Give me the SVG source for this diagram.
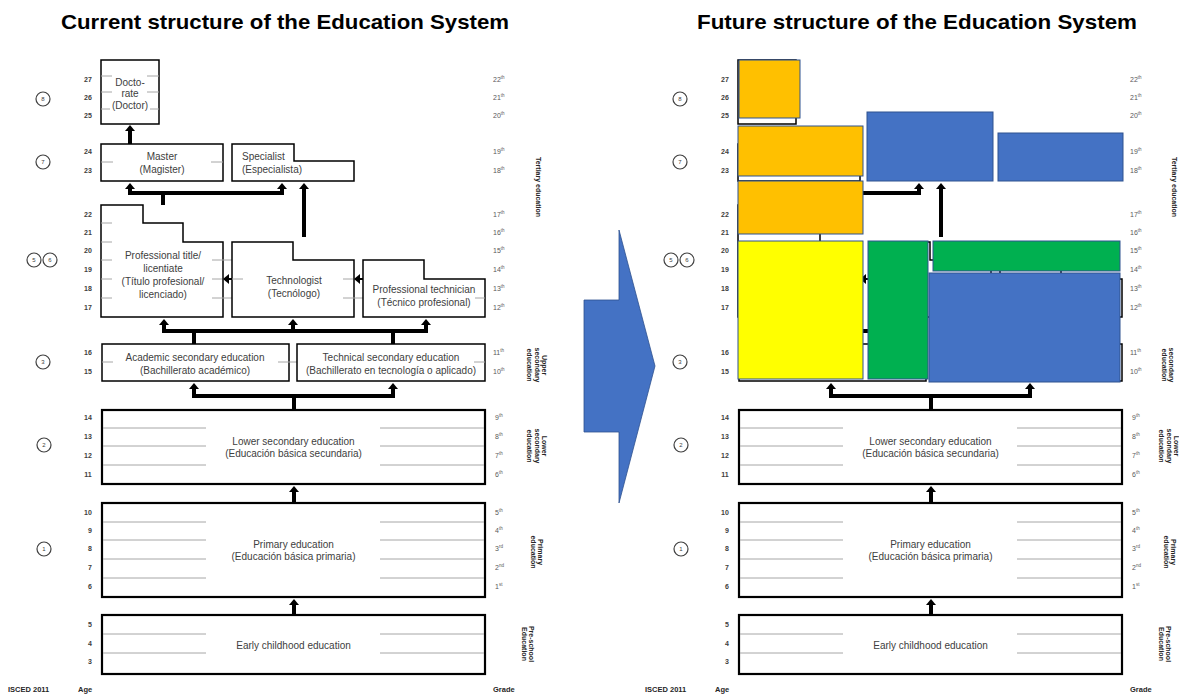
<svg xmlns="http://www.w3.org/2000/svg" width="1179" height="695" viewBox="0 0 1179 695">
<style>
.box{fill:#fff;stroke:#000;stroke-width:1.5}
.bbox{fill:#fff;stroke:#000;stroke-width:2.2}
.grid{stroke:#a6a6a6;stroke-width:1;fill:none}
.lbl{font-family:"Liberation Sans",Arial,sans-serif;font-size:10px;fill:#404040;text-anchor:middle}
.lbls{font-family:"Liberation Sans",Arial,sans-serif;font-size:10px;fill:#404040}
.age{font-family:"Liberation Sans",Arial,sans-serif;font-size:7px;font-weight:bold;fill:#404040;text-anchor:middle}
.grade{font-family:"Liberation Sans",Arial,sans-serif;font-size:7px;fill:#595959}
.lvl{font-family:"Liberation Sans",Arial,sans-serif;font-size:7px;font-weight:bold;fill:#262626;text-anchor:middle}
.foot{font-family:"Liberation Sans",Arial,sans-serif;font-size:7.5px;font-weight:bold;fill:#262626}
.title{font-family:"Liberation Sans",Arial,sans-serif;font-size:21px;font-weight:bold;fill:#000;text-anchor:middle}
.conn{stroke:#000;stroke-width:4;fill:none}
.circ{fill:#fff;stroke:#404040;stroke-width:1.2}
.cnum{font-family:"Liberation Sans",Arial,sans-serif;font-size:6px;fill:#404040;text-anchor:middle}
.ov{stroke:#2F528F;stroke-width:1}
</style>
<defs>
<marker id="ah" viewBox="0 0 10 10" refX="0" refY="5" markerUnits="userSpaceOnUse" markerWidth="6" markerHeight="10" orient="auto-start-reverse" preserveAspectRatio="none"><path d="M0,0 L10,5 L0,10 z" fill="#000"/></marker>
</defs>

<text class="title" x="285" y="29" textLength="448" lengthAdjust="spacingAndGlyphs">Current structure of the Education System</text>
<text class="title" x="917" y="29" textLength="440" lengthAdjust="spacingAndGlyphs">Future structure of the Education System</text>

<!-- Arrow between panels -->
<g id="transition-arrow">
<path d="M584,300 H619 V230 L655,366 L619,503 V432 H584 Z" fill="#4472C4" stroke="#2F528F" stroke-width="0.8"/>
</g>

<!-- Shared scale labels: left panel and right panel -->
<g id="scale-left">
<g class="circles">
<circle class="circ" cx="43" cy="99" r="7"/><text class="cnum" x="43" y="101">8</text>
<circle class="circ" cx="43" cy="162" r="7"/><text class="cnum" x="43" y="164">7</text>
<circle class="circ" cx="34" cy="260" r="7"/><text class="cnum" x="34" y="262">5</text>
<circle class="circ" cx="50" cy="260" r="7"/><text class="cnum" x="50" y="262">6</text>
<circle class="circ" cx="43" cy="362" r="7"/><text class="cnum" x="43" y="364">3</text>
<circle class="circ" cx="44" cy="445" r="7"/><text class="cnum" x="44" y="447">2</text>
<circle class="circ" cx="44" cy="549" r="7"/><text class="cnum" x="44" y="551">1</text>
</g>
<g class="ages">
<text class="age" x="88" y="81.5">27</text><text class="age" x="88" y="99.5">26</text><text class="age" x="88" y="117.5">25</text>
<text class="age" x="88" y="153.5">24</text><text class="age" x="88" y="172.5">23</text>
<text class="age" x="88" y="216.5">22</text><text class="age" x="88" y="234.5">21</text><text class="age" x="88" y="252.5">20</text>
<text class="age" x="88" y="271.5">19</text><text class="age" x="88" y="290.5">18</text><text class="age" x="88" y="309.5">17</text>
<text class="age" x="88" y="354.5">16</text><text class="age" x="88" y="373.5">15</text>
<text class="age" x="88" y="419.5">14</text><text class="age" x="88" y="438.5">13</text><text class="age" x="88" y="457.5">12</text><text class="age" x="88" y="476.5">11</text>
<text class="age" x="88" y="514.5">10</text><text class="age" x="90" y="532.5">9</text><text class="age" x="90" y="550.5">8</text><text class="age" x="90" y="569.5">7</text><text class="age" x="90" y="588.5">6</text>
<text class="age" x="90" y="626.5">5</text><text class="age" x="90" y="645.5">4</text><text class="age" x="90" y="663.5">3</text>
</g>
<g class="grades">
<text class="grade" x="493" y="81.5">22<tspan font-size="4.5" dy="-2.5">th</tspan></text>
<text class="grade" x="493" y="99.5">21<tspan font-size="4.5" dy="-2.5">th</tspan></text>
<text class="grade" x="493" y="117.5">20<tspan font-size="4.5" dy="-2.5">th</tspan></text>
<text class="grade" x="493" y="153.5">19<tspan font-size="4.5" dy="-2.5">th</tspan></text>
<text class="grade" x="493" y="172.5">18<tspan font-size="4.5" dy="-2.5">th</tspan></text>
<text class="grade" x="493" y="216.5">17<tspan font-size="4.5" dy="-2.5">th</tspan></text>
<text class="grade" x="493" y="234.5">16<tspan font-size="4.5" dy="-2.5">th</tspan></text>
<text class="grade" x="493" y="252.5">15<tspan font-size="4.5" dy="-2.5">th</tspan></text>
<text class="grade" x="493" y="271.5">14<tspan font-size="4.5" dy="-2.5">th</tspan></text>
<text class="grade" x="493" y="290.5">13<tspan font-size="4.5" dy="-2.5">th</tspan></text>
<text class="grade" x="493" y="309.5">12<tspan font-size="4.5" dy="-2.5">th</tspan></text>
<text class="grade" x="493" y="354.5">11<tspan font-size="4.5" dy="-2.5">th</tspan></text>
<text class="grade" x="493" y="373.5">10<tspan font-size="4.5" dy="-2.5">th</tspan></text>
<text class="grade" x="495" y="419.5">9<tspan font-size="4.5" dy="-2.5">th</tspan></text>
<text class="grade" x="495" y="438.5">8<tspan font-size="4.5" dy="-2.5">th</tspan></text>
<text class="grade" x="495" y="457.5">7<tspan font-size="4.5" dy="-2.5">th</tspan></text>
<text class="grade" x="495" y="476.5">6<tspan font-size="4.5" dy="-2.5">th</tspan></text>
<text class="grade" x="495" y="514.5">5<tspan font-size="4.5" dy="-2.5">th</tspan></text>
<text class="grade" x="495" y="532.5">4<tspan font-size="4.5" dy="-2.5">th</tspan></text>
<text class="grade" x="495" y="550.5">3<tspan font-size="4.5" dy="-2.5">rd</tspan></text>
<text class="grade" x="495" y="569.5">2<tspan font-size="4.5" dy="-2.5">nd</tspan></text>
<text class="grade" x="495" y="588.5">1<tspan font-size="4.5" dy="-2.5">st</tspan></text>
</g>
<text class="foot" x="8" y="692">ISCED 2011</text>
<text class="foot" x="78" y="692">Age</text>
<text class="foot" x="493" y="692">Grade</text>
</g>

<g id="scale-right" transform="translate(637,0)">
<g class="circles">
<circle class="circ" cx="43" cy="99" r="7"/><text class="cnum" x="43" y="101">8</text>
<circle class="circ" cx="43" cy="162" r="7"/><text class="cnum" x="43" y="164">7</text>
<circle class="circ" cx="34" cy="260" r="7"/><text class="cnum" x="34" y="262">5</text>
<circle class="circ" cx="50" cy="260" r="7"/><text class="cnum" x="50" y="262">6</text>
<circle class="circ" cx="43" cy="362" r="7"/><text class="cnum" x="43" y="364">3</text>
<circle class="circ" cx="44" cy="445" r="7"/><text class="cnum" x="44" y="447">2</text>
<circle class="circ" cx="44" cy="549" r="7"/><text class="cnum" x="44" y="551">1</text>
</g>
<g class="ages">
<text class="age" x="88" y="81.5">27</text><text class="age" x="88" y="99.5">26</text><text class="age" x="88" y="117.5">25</text>
<text class="age" x="88" y="153.5">24</text><text class="age" x="88" y="172.5">23</text>
<text class="age" x="88" y="216.5">22</text><text class="age" x="88" y="234.5">21</text><text class="age" x="88" y="252.5">20</text>
<text class="age" x="88" y="271.5">19</text><text class="age" x="88" y="290.5">18</text><text class="age" x="88" y="309.5">17</text>
<text class="age" x="88" y="354.5">16</text><text class="age" x="88" y="373.5">15</text>
<text class="age" x="88" y="419.5">14</text><text class="age" x="88" y="438.5">13</text><text class="age" x="88" y="457.5">12</text><text class="age" x="88" y="476.5">11</text>
<text class="age" x="88" y="514.5">10</text><text class="age" x="90" y="532.5">9</text><text class="age" x="90" y="550.5">8</text><text class="age" x="90" y="569.5">7</text><text class="age" x="90" y="588.5">6</text>
<text class="age" x="90" y="626.5">5</text><text class="age" x="90" y="645.5">4</text><text class="age" x="90" y="663.5">3</text>
</g>
<g class="grades">
<text class="grade" x="493" y="81.5">22<tspan font-size="4.5" dy="-2.5">th</tspan></text>
<text class="grade" x="493" y="99.5">21<tspan font-size="4.5" dy="-2.5">th</tspan></text>
<text class="grade" x="493" y="117.5">20<tspan font-size="4.5" dy="-2.5">th</tspan></text>
<text class="grade" x="493" y="153.5">19<tspan font-size="4.5" dy="-2.5">th</tspan></text>
<text class="grade" x="493" y="172.5">18<tspan font-size="4.5" dy="-2.5">th</tspan></text>
<text class="grade" x="493" y="216.5">17<tspan font-size="4.5" dy="-2.5">th</tspan></text>
<text class="grade" x="493" y="234.5">16<tspan font-size="4.5" dy="-2.5">th</tspan></text>
<text class="grade" x="493" y="252.5">15<tspan font-size="4.5" dy="-2.5">th</tspan></text>
<text class="grade" x="493" y="271.5">14<tspan font-size="4.5" dy="-2.5">th</tspan></text>
<text class="grade" x="493" y="290.5">13<tspan font-size="4.5" dy="-2.5">th</tspan></text>
<text class="grade" x="493" y="309.5">12<tspan font-size="4.5" dy="-2.5">th</tspan></text>
<text class="grade" x="493" y="354.5">11<tspan font-size="4.5" dy="-2.5">th</tspan></text>
<text class="grade" x="493" y="373.5">10<tspan font-size="4.5" dy="-2.5">th</tspan></text>
<text class="grade" x="495" y="419.5">9<tspan font-size="4.5" dy="-2.5">th</tspan></text>
<text class="grade" x="495" y="438.5">8<tspan font-size="4.5" dy="-2.5">th</tspan></text>
<text class="grade" x="495" y="457.5">7<tspan font-size="4.5" dy="-2.5">th</tspan></text>
<text class="grade" x="495" y="476.5">6<tspan font-size="4.5" dy="-2.5">th</tspan></text>
<text class="grade" x="495" y="514.5">5<tspan font-size="4.5" dy="-2.5">th</tspan></text>
<text class="grade" x="495" y="532.5">4<tspan font-size="4.5" dy="-2.5">th</tspan></text>
<text class="grade" x="495" y="550.5">3<tspan font-size="4.5" dy="-2.5">rd</tspan></text>
<text class="grade" x="495" y="569.5">2<tspan font-size="4.5" dy="-2.5">nd</tspan></text>
<text class="grade" x="495" y="588.5">1<tspan font-size="4.5" dy="-2.5">st</tspan></text>
</g>
<text class="foot" x="8" y="692">ISCED 2011</text>
<text class="foot" x="78" y="692">Age</text>
<text class="foot" x="493" y="692">Grade</text>
</g>

<!-- Level labels (rotated) -->
<g id="levels-left">
<text class="lvl" transform="translate(538,187) rotate(90)" y="2.5">Tertiary education</text>
<text class="lvl" transform="translate(537,365) rotate(90)"><tspan x="0" y="-5">Upper</tspan><tspan x="0" y="2.5">secondary</tspan><tspan x="0" y="10">education</tspan></text>
<text class="lvl" transform="translate(537,446) rotate(90)"><tspan x="0" y="-5">Lower</tspan><tspan x="0" y="2.5">secondary</tspan><tspan x="0" y="10">education</tspan></text>
<text class="lvl" transform="translate(537,552) rotate(90)"><tspan x="0" y="-1.3">Primary</tspan><tspan x="0" y="6.2">education</tspan></text>
<text class="lvl" transform="translate(528,644) rotate(90)"><tspan x="0" y="-1.3">Pre-school</tspan><tspan x="0" y="6.2">Education</tspan></text>
</g>
<g id="levels-right">
<text class="lvl" transform="translate(1174,187) rotate(90)" y="2.5">Tertiary education</text>
<text class="lvl" transform="translate(1168,365) rotate(90)"><tspan x="0" y="-1.3">secondary</tspan><tspan x="0" y="6.2">education</tspan></text>
<text class="lvl" transform="translate(1169,446) rotate(90)"><tspan x="0" y="-5">Lower</tspan><tspan x="0" y="2.5">secondary</tspan><tspan x="0" y="10">education</tspan></text>
<text class="lvl" transform="translate(1170,552) rotate(90)"><tspan x="0" y="-1.3">Primary</tspan><tspan x="0" y="6.2">education</tspan></text>
<text class="lvl" transform="translate(1165,644) rotate(90)"><tspan x="0" y="-1.3">Pre-school</tspan><tspan x="0" y="6.2">Education</tspan></text>
</g>

<!-- LEFT PANEL NODES -->
<g id="doctorate">
<rect class="box" x="101" y="60" width="58" height="64"/>
<path class="grid" d="M101,76H112M147,76H159M101,92H112M147,92H159M101,109H110M150,109H159"/>
<text class="lbl" x="130" y="85.5">Docto-</text>
<text class="lbl" x="130" y="96.5">rate</text>
<text class="lbl" x="130" y="108.5">(Doctor)</text>
</g>
<g id="master">
<rect class="box" x="101" y="144" width="122" height="37"/>
<path class="grid" d="M101,162H113M211,162H223"/>
<text class="lbl" x="162" y="159.5">Master</text>
<text class="lbl" x="162" y="172.5">(Magister)</text>
</g>
<g id="specialist">
<path class="box" d="M232,144H294V161H354V181H232Z"/>
<text class="lbls" x="242" y="159.5">Specialist</text>
<text class="lbls" x="242" y="172.5">(Especialista)</text>
</g>
<g id="professional-title">
<path class="box" d="M101,205H143V223H183V242H223V317H101Z"/>
<path class="grid" d="M101,223H112M101,242H112M101,260H112M101,279H112M101,298H112M212,260H243M212,298H243M212,279H222"/>
<text class="lbl" x="163" y="258.5">Professional title/</text>
<text class="lbl" x="163" y="271.5">licentiate</text>
<text class="lbl" x="163" y="284.5">(Título profesional/</text>
<text class="lbl" x="163" y="297.5">licenciado)</text>
</g>
<g id="technologist">
<path class="box" d="M232,242H293V260H354V317H232Z"/>
<path class="grid" d="M232,279H243M343,279H353M343,298H374"/>
<text class="lbl" x="294" y="283.5">Technologist</text>
<text class="lbl" x="294" y="296.5">(Tecnólogo)</text>
</g>
<g id="professional-technician">
<path class="box" d="M363,260H424V279H485V317H363Z"/>
<path class="grid" d="M475,298H485"/>
<text class="lbl" x="424" y="292.5">Professional technician</text>
<text class="lbl" x="424" y="305.5">(Técnico profesional)</text>
</g>
<g id="academic-secondary">
<rect class="box" x="102" y="344" width="187" height="37"/>
<path class="grid" d="M102,362H113M278,362H308"/>
<text class="lbl" x="195" y="360.5">Academic secondary education</text>
<text class="lbl" x="195" y="374">(Bachillerato académico)</text>
</g>
<g id="technical-secondary">
<rect class="box" x="297" y="344" width="188" height="37"/>
<path class="grid" d="M474,362H485"/>
<text class="lbl" x="391" y="360.5">Technical secondary education</text>
<text class="lbl" x="391" y="374">(Bachillerato en tecnología o aplicado)</text>
</g>
<g id="lower-secondary">
<rect class="bbox" x="102" y="410" width="383" height="74"/>
<path class="grid" d="M103,428H206M380,428H484M103,446H206M380,446H484M103,465H206M380,465H484"/>
<text class="lbl" x="293.5" y="444.5">Lower secondary education</text>
<text class="lbl" x="293.5" y="457">(Educación básica secundaria)</text>
</g>
<g id="primary">
<rect class="bbox" x="102" y="503" width="383" height="94"/>
<path class="grid" d="M103,522H206M380,522H484M103,540H206M380,540H484M103,559H206M380,559H484M103,578H206M380,578H484"/>
<text class="lbl" x="293.5" y="547.5">Primary education</text>
<text class="lbl" x="293.5" y="560">(Educación básica primaria)</text>
</g>
<g id="early-childhood">
<rect class="bbox" x="102" y="615" width="383" height="59"/>
<path class="grid" d="M103,634H206M380,634H484M103,653H206M380,653H484"/>
<text class="lbl" x="293.5" y="648.5">Early childhood education</text>
</g>

<!-- RIGHT PANEL underlying structure -->
<g id="r-doctorate-base"><rect class="box" x="738" y="60" width="58" height="64"/></g>
<g id="r-master-base"><rect class="box" x="738" y="144" width="122" height="37"/></g>
<g id="r-professional-title-base"><path class="box" d="M738,205H780V223H820V242H860V317H738Z"/></g>
<g id="r-technologist-base"><path class="box" d="M869,242H930V260H991V317H869Z"/></g>
<g id="r-professional-technician-base"><path class="box" d="M1000,260H1061V279H1122V317H1000Z"/></g>
<g id="r-academic-base"><rect class="box" x="739" y="344" width="187" height="37"/></g>
<g id="r-technical-base"><rect class="box" x="934" y="344" width="188" height="37"/></g>
<g id="r-lower-secondary">
<rect class="bbox" x="739" y="410" width="383" height="74"/>
<path class="grid" d="M740,428H843M1017,428H1121M740,446H843M1017,446H1121M740,465H843M1017,465H1121"/>
<text class="lbl" x="930.5" y="444.5">Lower secondary education</text>
<text class="lbl" x="930.5" y="457">(Educación básica secundaria)</text>
</g>
<g id="r-primary">
<rect class="bbox" x="739" y="503" width="383" height="94"/>
<path class="grid" d="M740,522H843M1017,522H1121M740,540H843M1017,540H1121M740,559H843M1017,559H1121M740,578H843M1017,578H1121"/>
<text class="lbl" x="930.5" y="547.5">Primary education</text>
<text class="lbl" x="930.5" y="560">(Educación básica primaria)</text>
</g>
<g id="r-early-childhood">
<rect class="bbox" x="739" y="615" width="383" height="59"/>
<path class="grid" d="M740,634H843M1017,634H1121M740,653H843M1017,653H1121"/>
<text class="lbl" x="930.5" y="648.5">Early childhood education</text>
</g>

<!-- CONNECTORS -->
<g id="connectors">
<path class="conn" d="M130,144V131" marker-end="url(#ah)"/>
<path class="conn" d="M130,189V193H282V189" marker-start="url(#ah)" marker-end="url(#ah)"/>
<path class="conn" d="M163,193V205"/>
<path class="conn" d="M304,237V189" marker-end="url(#ah)"/>
<path class="conn" d="M164,325V331H426V325" marker-start="url(#ah)" marker-end="url(#ah)"/>
<path class="conn" d="M293,331V325" marker-end="url(#ah)"/>
<path class="conn" d="M194,331V344M393,331V344"/>
<path class="conn" d="M194,389V396H393V389" marker-start="url(#ah)" marker-end="url(#ah)"/>
<path class="conn" d="M294,396V410"/>
<path class="conn" d="M294,503V492" marker-end="url(#ah)"/>
<path class="conn" d="M294,615V605" marker-end="url(#ah)"/>
<path class="conn" style="stroke-width:2" d="M232,279H229" marker-end="url(#ah)"/>
<path class="conn" style="stroke-width:2" d="M363,279H360" marker-end="url(#ah)"/>
<path class="conn" d="M863,193H919V189" marker-end="url(#ah)"/>
<path class="conn" d="M941,237V189" marker-end="url(#ah)"/>
<path class="conn" d="M860,331H870"/>
<path class="conn" style="stroke-width:2" d="M869,279H866" marker-end="url(#ah)"/>
<path class="conn" d="M831,389V396H1030V389" marker-start="url(#ah)" marker-end="url(#ah)"/>
<path class="conn" d="M931,396V410"/>
<path class="conn" d="M931,503V492" marker-end="url(#ah)"/>
<path class="conn" d="M931,615V605" marker-end="url(#ah)"/>
</g>

<!-- FUTURE STRUCTURE colored blocks -->
<g id="f-doctorate"><rect class="ov" x="739" y="60" width="61" height="58" fill="#FFC000"/></g>
<g id="f-master"><rect class="ov" x="738" y="126" width="125" height="50" fill="#FFC000"/></g>
<g id="f-tertiary-orange"><rect class="ov" x="738" y="181" width="125" height="53" fill="#FFC000"/></g>
<g id="f-yellow"><rect class="ov" x="738" y="241" width="125" height="138" fill="#FFFF00"/></g>
<g id="f-green-tall"><rect class="ov" x="868" y="241" width="60" height="138" fill="#00B050"/></g>
<g id="f-green-wide"><rect class="ov" x="933" y="241" width="187" height="30" fill="#00B050"/></g>
<g id="f-blue-large"><rect class="ov" x="929" y="273" width="191" height="109" fill="#4472C4"/></g>
<g id="f-blue-specialist"><rect class="ov" x="867" y="112" width="126" height="69" fill="#4472C4"/></g>
<g id="f-blue-right"><rect class="ov" x="998" y="133" width="125" height="48" fill="#4472C4"/></g>
</svg>
